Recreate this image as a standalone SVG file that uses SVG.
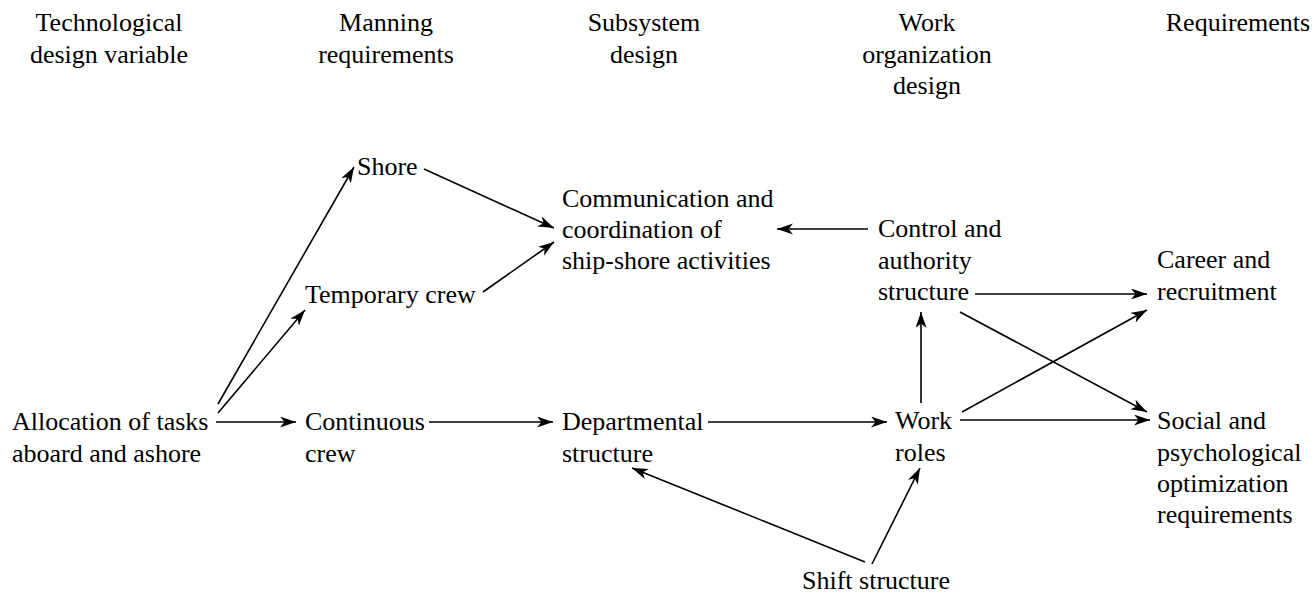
<svg xmlns="http://www.w3.org/2000/svg" width="1315" height="603" viewBox="0 0 1315 603">
<style>
text{font-family:"Liberation Serif","Times New Roman",serif;font-size:26px;fill:#000}
.h{text-anchor:middle}
.c{stroke:#000;stroke-width:1.6;fill:none;marker-end:url(#ah)}
</style>
<defs>
<marker id="ah" markerUnits="userSpaceOnUse" markerWidth="18" markerHeight="12" refX="16" refY="5.5" orient="auto">
<path d="M0,0 L16,5.5 L0,11 L4.5,5.5 z" fill="#000"/>
</marker>
</defs>
<rect width="1315" height="603" fill="#fff"/>
<g id="headers">
<text class="h" x="109" y="31">Technological</text>
<text class="h" x="109" y="63">design variable</text>
<text class="h" x="386" y="31">Manning</text>
<text class="h" x="386" y="63">requirements</text>
<text class="h" x="644" y="31">Subsystem</text>
<text class="h" x="644" y="63">design</text>
<text class="h" x="927" y="31">Work</text>
<text class="h" x="927" y="63">organization</text>
<text class="h" x="927" y="94">design</text>
<text class="h" x="1238" y="31">Requirements</text>
</g>
<g id="allocation"><text x="12" y="430">Allocation of tasks</text><text x="12" y="462">aboard and ashore</text></g>
<g id="shore"><text x="357" y="175">Shore</text></g>
<g id="temporary"><text x="305" y="303">Temporary crew</text></g>
<g id="continuous"><text x="305" y="430">Continuous</text><text x="305" y="462">crew</text></g>
<g id="communication"><text x="562" y="207">Communication and</text><text x="562" y="238">coordination of</text><text x="562" y="269">ship-shore activities</text></g>
<g id="departmental"><text x="562" y="430">Departmental</text><text x="562" y="462">structure</text></g>
<g id="control"><text x="878" y="237">Control and</text><text x="878" y="269">authority</text><text x="878" y="300">structure</text></g>
<g id="work"><text x="895" y="429">Work</text><text x="895" y="461">roles</text></g>
<g id="shift"><text x="802" y="589">Shift structure</text></g>
<g id="career"><text x="1157" y="268">Career and</text><text x="1157" y="300">recruitment</text></g>
<g id="social"><text x="1157" y="429">Social and</text><text x="1157" y="461">psychological</text><text x="1157" y="492">optimization</text><text x="1157" y="523">requirements</text></g>
<g id="connectors">
<path class="c" d="M218,404 L354,167"/>
<path class="c" d="M218,413 L305,310"/>
<path class="c" d="M216,422 L296,422"/>
<path class="c" d="M424,169 L554,228"/>
<path class="c" d="M483,292 L554,242"/>
<path class="c" d="M429,422 L553,422"/>
<path class="c" d="M708,422 L887,422"/>
<path class="c" d="M868,229 L777,229"/>
<path class="c" d="M921,403 L921,312"/>
<path class="c" d="M975,294 L1147,294"/>
<path class="c" d="M960,312 L1147,412"/>
<path class="c" d="M962,412 L1147,310"/>
<path class="c" d="M960,420 L1150,420"/>
<path class="c" d="M865,562 L632,468"/>
<path class="c" d="M872,564 L920,468"/>
</g>
</svg>
